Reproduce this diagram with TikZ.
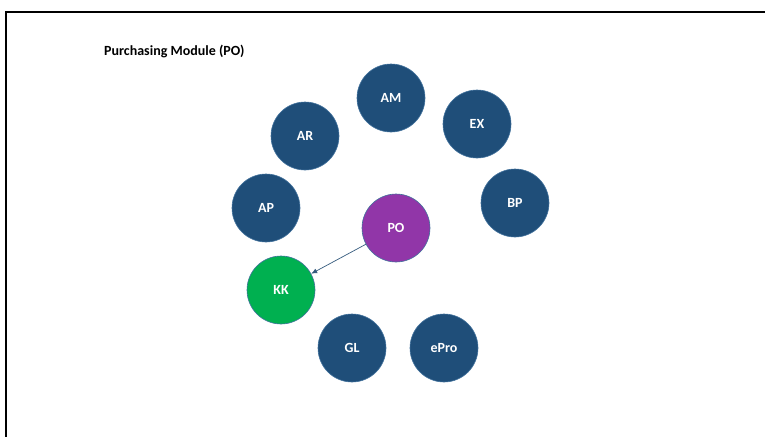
\documentclass[tikz,border=0pt]{standalone}
\usepackage{fontspec}
\setmainfont{Carlito}
\usetikzlibrary{arrows.meta}
\definecolor{modblue}{HTML}{1F4E79}
\definecolor{rimblue}{HTML}{41719C}
\definecolor{popurple}{HTML}{9136A8}
\definecolor{kkgreen}{HTML}{00B050}
\tikzset{
	module/.style={circle,draw=rimblue,line width=0.6pt,fill=modblue,minimum size=68pt,inner sep=0pt,text=white,font=\fontsize{14}{16}\selectfont\bfseries},
	link/.style={draw=rimblue!80!black,line width=0.7pt,-{Latex[length=6pt,width=5pt]}}
}
\begin{document}
\begin{tikzpicture}[x=1pt,y=-1pt]
			\useasboundingbox (0,0) rectangle (765,437);
			\draw[line width=2pt] (765,12) -| (6,437);
			
			\node[anchor=west,inner sep=0pt,font=\fontsize{14}{16}\selectfont\bfseries] (title) at (104,51) {Purchasing Module (PO)};
			
			\node[module] (am) at (391,98) {AM};
			\node[module] (ex) at (477,124) {EX};
			\node[module] (ar) at (305,136) {AR};
			\node[module] (ap) at (266,208) {AP};
			\node[module] (bp) at (515,203) {BP};
			\node[module,fill=popurple] (po) at (396,228) {PO};
			\node[module,fill=kkgreen] (kk) at (281,290) {KK};
			\node[module] (gl) at (352,348) {GL};
			\node[module] (epro) at (444,348) {ePro};
			
			\draw[link] (po) -- (kk);
		\end{tikzpicture}
\end{document}
